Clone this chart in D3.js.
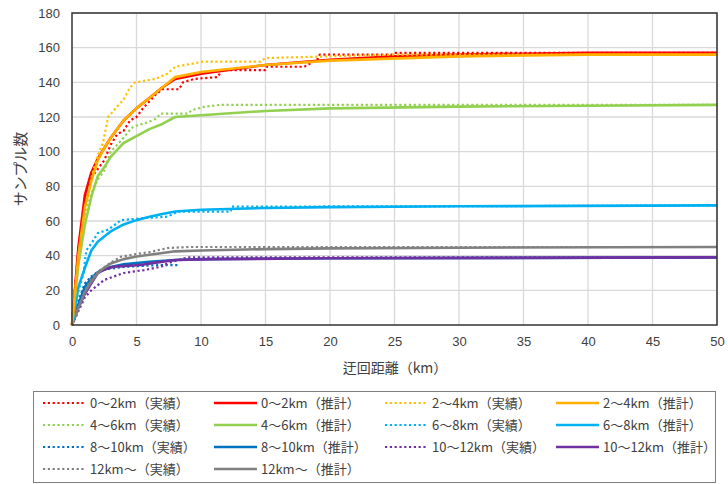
<!DOCTYPE html>
<html><head><meta charset="utf-8">
<script src="https://cdn.jsdelivr.net/npm/d3@7"></script>
<style>
body{margin:0;background:#fff;}
svg text{font-family:"Noto Sans CJK JP","Noto Sans",sans-serif;fill:#404040;}
.tick text{font-family:"Liberation Sans","Noto Sans",sans-serif;}
</style>
</head><body>
<svg id="c" width="728" height="484"></svg>
<script>
// ---- data (distance km, sample count) ----
const xTicks = [0,5,10,15,20,25,30,35,40,45,50];
const yTicks = [0,20,40,60,80,100,120,140,160,180];

const act0_2 = [[0,0],[0.5,45],[1,70],[1.5,85],[2,90],[2.5,95],[3,104],[3.5,110],[4,112],[4.5,118],[5,120],[5.5,125],[6,129],[6.5,133],[7,136],[8.3,136],[8.6,140],[9.5,142],[11.3,143],[11.6,147],[15,147],[15.1,149],[18,149],[18.5,151],[19,153],[19.2,156],[24.8,156],[25,157],[50,157]];
const est0_2 = [[0,0],[0.5,45],[1,75],[1.5,88],[2,96],[2.5,102],[3,108],[4,118],[5,125],[6,131],[7,137],[8,142],[10,145],[15,150],[20,153],[25,155],[30,156],[40,157],[50,157]];
const act2_4 = [[0,0],[0.5,40],[1,65],[1.5,85],[2,98],[2.4,105],[2.8,120],[3.5,126],[4,130],[4.5,137],[4.9,140],[6.5,142],[7.4,145],[8,149],[9.5,151],[10.2,152],[14.6,152],[15,154],[20,155],[25,156],[50,156]];
const est2_4 = [[0,0],[0.5,40],[1,68],[1.5,83],[2,95],[2.5,102],[3,108],[4,118],[5,125],[6,131],[7,137],[8,143],[10,146],[15,150],[20,152.5],[30,155],[40,156],[50,156]];
const act4_6 = [[0,0],[0.5,40],[1,63],[1.5,76],[2,84],[2.5,89],[3,100],[3.5,104],[4,108],[4.6,113.6],[5,115],[5.9,117],[6.5,119],[6.9,122],[9,122],[9.3,124],[10.3,126],[11.5,127],[50,127]];
const est4_6 = [[0,0],[0.5,35],[1,58],[1.5,74],[2,86],[2.5,91],[3,97],[3.5,101],[4,105],[5,109],[6,113],[7,116],[8,120],[10,121],[15,123.5],[20,125],[30,126],[40,126.5],[50,127]];
const act6_8 = [[0,0],[0.5,20],[0.9,30],[1.1,43],[1.5,47],[2,53],[2.8,55],[3.8,60.5],[5.6,61.7],[7.4,62.5],[8.2,65.4],[12.3,65.4],[12.4,68.3],[30,68.5],[50,69]];
const est6_8 = [[0,0],[0.5,22],[1,33],[1.5,43],[2,48],[2.5,51],[3,54],[4,58],[5,60.5],[6,62.5],[7,64],[8,65.5],[10,66.5],[15,67.5],[20,68],[30,68.5],[50,69]];
const act8_10 = [[0,0],[0.5,14],[1,24],[1.5,28],[2.2,31.7],[4.1,33.6],[6.9,34.6],[8.3,34.6]];
const est8_10 = [[0,0],[0.5,12],[1,22],[1.5,27],[2,30.5],[3,33.5],[4,35],[6,36.5],[8,37.5],[10,38],[20,38.5],[50,39]];
const act10_12 = [[0,0],[0.5,8],[1,16],[1.5,20],[2,23],[2.5,26],[4,30],[5.6,31.7],[6.9,33.6],[7.4,35.6],[8.7,38.5],[9,39],[50,39]];
const est10_12 = [[0,0],[0.5,10],[1,18],[1.5,24],[2,30],[2.5,32],[3.3,33.7],[5.3,34.6],[6.5,36],[8,37.5],[11.3,38],[20,38.5],[50,39]];
const act12 = [[0,0],[0.5,10],[1,20],[1.5,27],[2.2,31.7],[3,36],[3.8,39.4],[5,41],[6,42],[7.4,44.4],[9,45],[50,45]];
const est12 = [[0,0],[0.5,10],[1,19],[1.5,25],[2,30],[2.5,33],[3,35.5],[4,38],[5,39.5],[6,40.5],[8,42.5],[10,43],[15,43.8],[20,44.2],[30,44.6],[50,45]];

const labels = ["0～2km（実績）","0～2km（推計）","2～4km（実績）","2～4km（推計）",
  "4～6km（実績）","4～6km（推計）","6～8km（実績）","6～8km（推計）",
  "8～10km（実績）","8～10km（推計）","10～12km（実績）","10～12km（推計）",
  "12km～（実績）","12km～（推計）"];
const seriesData = [act0_2,est0_2,act2_4,est2_4,act4_6,est4_6,act6_8,est6_8,act8_10,est8_10,act10_12,est10_12,act12,est12];
const colors = ["#FF0000","#FF0000","#FFC000","#FFB000","#92D050","#92D050","#00B0F0","#00B0F0","#0070C0","#0070C0","#7030A0","#7030A0","#808080","#808080"];

// ---- layout ----
const svg = d3.select("#c");
const L=72, R=717, T=13, B=325;
const x = d3.scaleLinear().domain([0,50]).range([L,R]);
const y = d3.scaleLinear().domain([0,180]).range([B,T]);

// grid
svg.append("g").selectAll("line").data(xTicks.slice(1)).join("line")
  .attr("x1",d=>x(d)).attr("x2",d=>x(d)).attr("y1",T).attr("y2",B)
  .attr("stroke","#D9D9D9").attr("stroke-width",1.3);
svg.append("g").selectAll("line").data(yTicks.slice(1)).join("line")
  .attr("x1",L).attr("x2",R).attr("y1",d=>y(d)).attr("y2",d=>y(d))
  .attr("stroke","#D9D9D9").attr("stroke-width",1.3);

// axes (labels only)
const gx = svg.append("g").attr("transform",`translate(0,${B})`)
  .call(d3.axisBottom(x).tickValues(xTicks).tickSize(0).tickPadding(12));
gx.select(".domain").remove();
gx.selectAll("text").attr("font-size","13px").attr("fill","#404040");
const gy = svg.append("g").attr("transform",`translate(${L},0)`)
  .call(d3.axisLeft(y).tickValues(yTicks).tickSize(0).tickPadding(12));
gy.select(".domain").remove();
gy.selectAll("text").attr("font-size","13px").attr("fill","#404040");

// lines
const line = d3.line().x(d=>x(d[0])).y(d=>y(d[1]));
const order = [8,9,10,11,12,13,6,7,4,5,0,1,2,3];
order.forEach(i=>{
  const est = i%2===1;
  svg.append("path").datum(seriesData[i])
    .attr("d",line).attr("fill","none")
    .attr("stroke",colors[i])
    .attr("stroke-width",est?2.6:2.2)
    .attr("stroke-linejoin","round")
    .attr("stroke-dasharray",est?null:"2.2,2.6");
});

// plot border
svg.append("rect").attr("x",L).attr("y",T).attr("width",R-L).attr("height",B-T)
  .attr("fill","none").attr("stroke","#333").attr("stroke-width",1.5);

// axis titles
svg.append("text").attr("x",395).attr("y",373).attr("text-anchor","middle")
  .attr("font-size","14px").text("迂回距離（km）");
svg.append("text").attr("transform","translate(26,169) rotate(-90)")
  .attr("text-anchor","middle").attr("font-size","15px").text("サンプル数");

// legend
svg.append("rect").attr("x",33.5).attr("y",391.5).attr("width",682).attr("height",91)
  .attr("fill","none").attr("stroke","#7F7F7F").attr("stroke-width",1);
const colX=[43,214,385,556], rowY=[403,425,447,469];
labels.forEach((lab,i)=>{
  const r=Math.floor(i/4), c=i%4, est=i%2===1;
  const g=svg.append("g");
  g.append("line").attr("x1",colX[c]).attr("x2",colX[c]+43)
    .attr("y1",rowY[r]).attr("y2",rowY[r]).attr("stroke",colors[i])
    .attr("stroke-width",est?2.6:2.2).attr("stroke-dasharray",est?null:"2.2,2.6");
  g.append("text").attr("x",colX[c]+47).attr("y",rowY[r]+4.5)
    .attr("font-size","13px").attr("fill","#404040").text(lab);
});
</script>
</body></html>
